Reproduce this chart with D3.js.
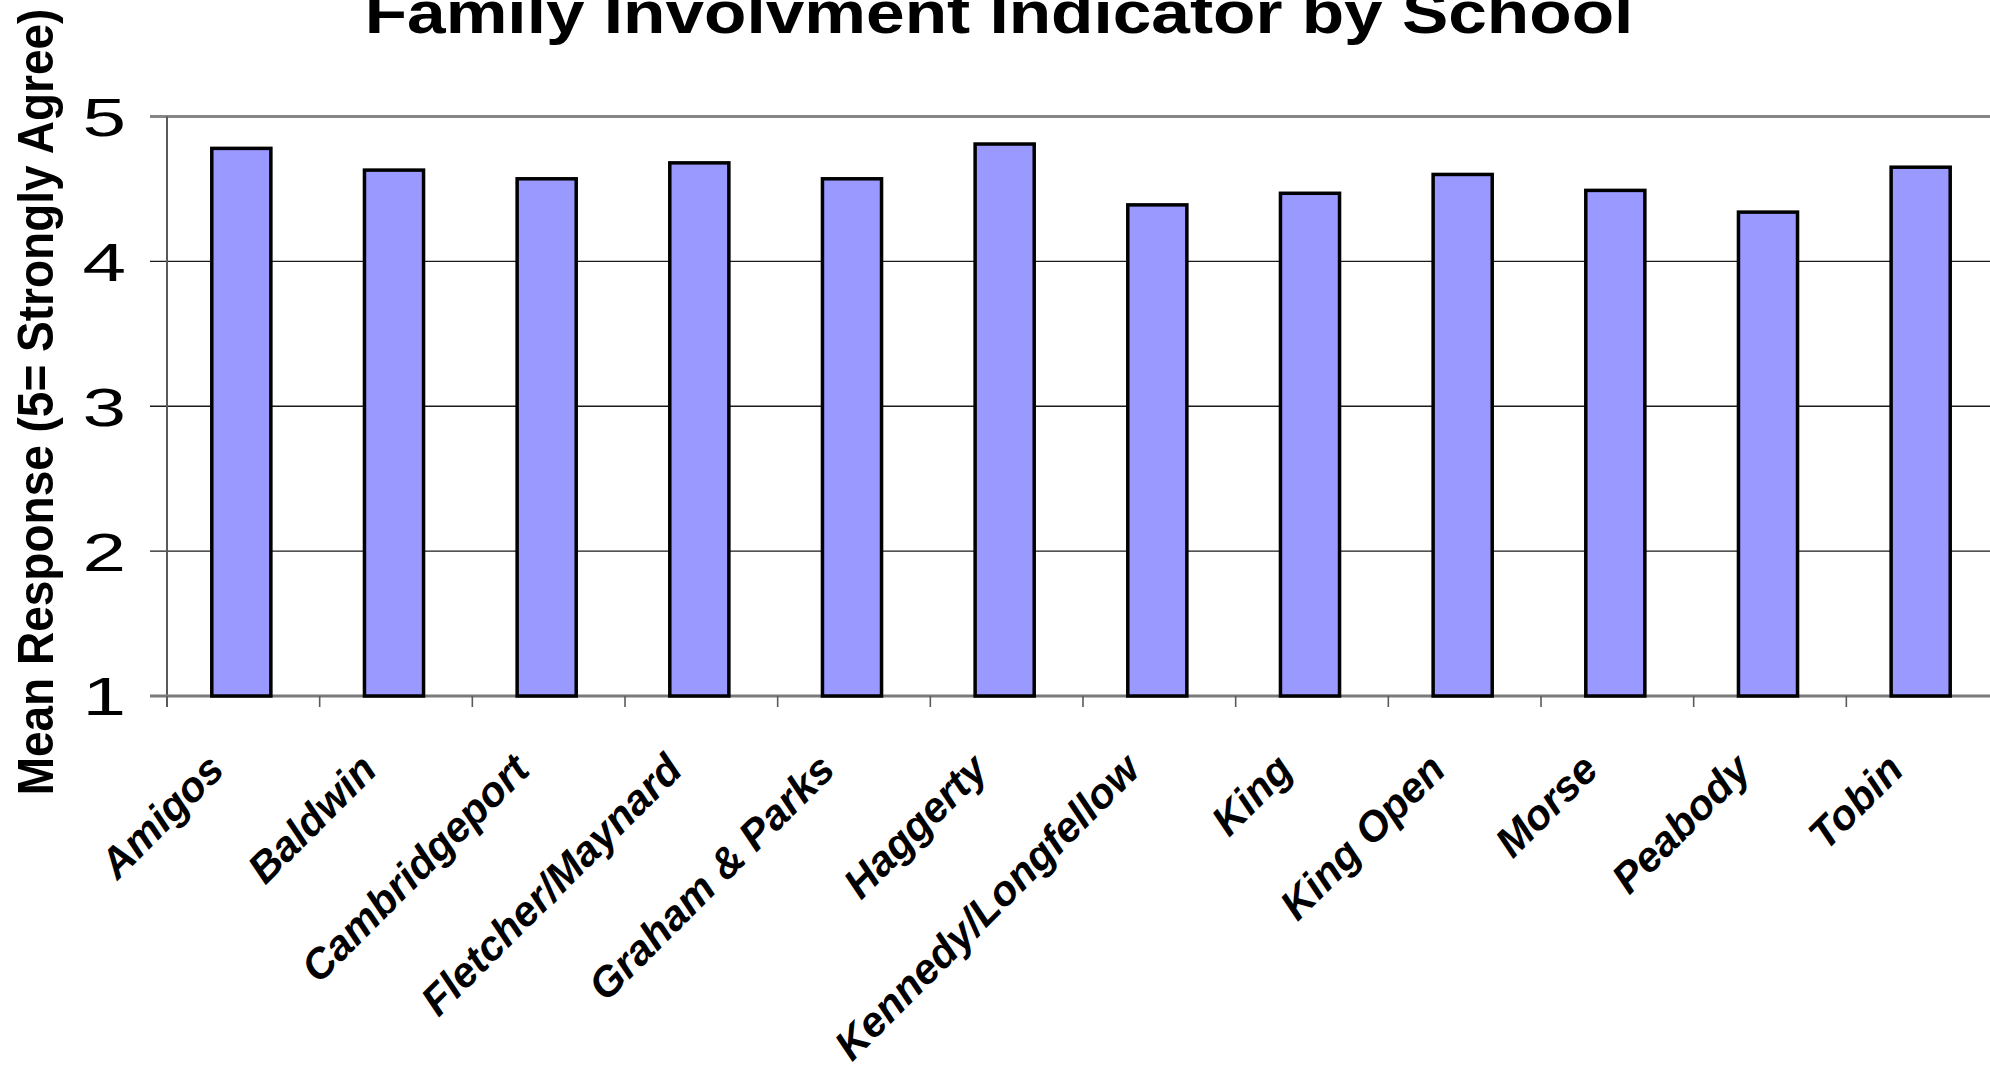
<!DOCTYPE html>
<html>
<head>
<meta charset="utf-8">
<script src="https://d3js.org/d3.v7.min.js"></script>
<style>
  body { margin: 0; background: #fff; overflow: hidden; }
  text { font-family: Arial, "Liberation Sans", sans-serif; fill: #000; }
</style>
</head>
<body>
<div id="my_dataviz"></div>
<script>
// chart values
const schools = ['Amigos', 'Baldwin', 'Cambridgeport', 'Fletcher/Maynard', 'Graham & Parks', 'Haggerty',
  'Kennedy/Longfellow', 'King', 'King Open', 'Morse', 'Peabody', 'Tobin'];
const means = [4.78, 4.63, 4.57, 4.68, 4.57, 4.81, 4.39, 4.47, 4.60, 4.49, 4.34, 4.65];
const yTicks = [1, 2, 3, 4, 5];
const chartTitle = 'Family Involvment Indicator by School';
const yTitle = 'Mean Response (5= Strongly Agree)';

draw_plot();

function draw_plot() {
  const W = 1990, H = 1065;
  // plot area (runs a little past the right edge, like the source image)
  const left = 167, right = 1999, top = 116.5, bottom = 696;

  const svg = d3.select('#my_dataviz')
    .append('svg')
      .attr('width', W)
      .attr('height', H)
      .style('display', 'block');

  svg.append('rect').attr('width', W).attr('height', H).attr('fill', '#fff');

  const x = d3.scaleBand()
    .domain(schools)
    .range([left, right])
    .paddingInner(0.613)
    .paddingOuter(0.3065);

  const y = d3.scaleLinear()
    .domain([1, 5])
    .range([bottom, top]);

  // gridlines (top one is the grey frame line)
  svg.append('g')
    .selectAll('line')
    .data(yTicks.filter(d => d > 1))
    .join('line')
      .attr('x1', 150)
      .attr('x2', right)
      .attr('y1', d => y(d))
      .attr('y2', d => y(d))
      .attr('stroke', d => d == 5 ? '#868686' : '#1a1a1a')
      .attr('stroke-width', d => d == 5 ? 3.2 : 1.3);

  // y axis line + x axis line
  svg.append('line')
    .attr('x1', left).attr('x2', left)
    .attr('y1', top).attr('y2', bottom + 11)
    .attr('stroke', '#5a5a5a').attr('stroke-width', 2);

  svg.append('line')
    .attr('x1', 150).attr('x2', right)
    .attr('y1', bottom).attr('y2', bottom)
    .attr('stroke', '#7a7a7a').attr('stroke-width', 3);

  // x ticks at the band edges
  const edges = schools.map(d => x(d) - (x.step() - x.bandwidth()) / 2);
  svg.append('g')
    .selectAll('line')
    .data(edges)
    .join('line')
      .attr('x1', d => d).attr('x2', d => d)
      .attr('y1', bottom).attr('y2', bottom + 11)
      .attr('stroke', '#5a5a5a').attr('stroke-width', 1.6);

  // bars
  svg.append('g')
    .selectAll('rect')
    .data(means)
    .join('rect')
      .attr('x', (d, i) => x(schools[i]) - 2)
      .attr('y', d => y(d))
      .attr('width', x.bandwidth())
      .attr('height', d => y(1) - y(d))
      .attr('fill', '#9999ff')
      .attr('stroke', '#000')
      .attr('stroke-width', 3.5);

  // y tick labels (the digits are drawn wide in the source)
  svg.append('g')
    .selectAll('text')
    .data(yTicks)
    .join('text')
      .attr('transform', d => `translate(126, ${y(d)}) scale(1.45, 1)`)
      .attr('dy', '0.36em')
      .attr('text-anchor', 'end')
      .style('font-size', '54px')
      .text(d => d);

  // school names, rotated
  svg.append('g')
    .selectAll('text')
    .data(schools)
    .join('text')
      .attr('transform', d => `translate(${x(d) + x.bandwidth() / 2 - 17}, 772) rotate(-45)`)
      .attr('text-anchor', 'end')
      .style('font-size', '42px')
      .style('font-weight', 'bold')
      .style('font-style', 'italic')
      .text(d => d);

  // y axis title
  svg.append('text')
    .attr('transform', 'translate(53, 402) scale(1.1, 1) rotate(-90)')
    .attr('text-anchor', 'middle')
    .style('font-size', '46px')
    .style('font-weight', 'bold')
    .text(yTitle);

  // title, stretched to the measured width
  const t = svg.append('text')
    .attr('text-anchor', 'middle')
    .style('font-size', '60px')
    .style('font-weight', 'bold')
    .text(chartTitle);
  const sx = 1269 / t.node().getComputedTextLength();
  t.attr('transform', `translate(999, 33) scale(${sx}, 1)`);
}
</script>
</body>
</html>
